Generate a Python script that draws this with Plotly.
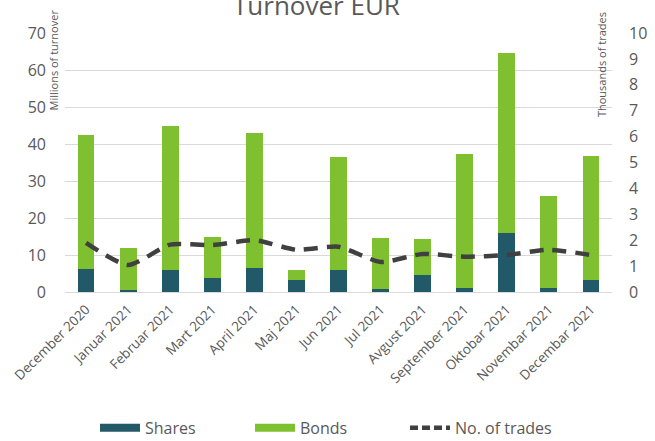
import plotly.graph_objects as go

months = ["December 2020", "Januar 2021", "Februar 2021", "Mart 2021", "April 2021",
          "Maj 2021", "Jun 2021", "Jul 2021", "Avgust 2021", "September 2021",
          "Oktobar 2021", "Novembar 2021", "Decembar 2021"]
shares = [6.1, 0.5, 5.9, 3.8, 6.5, 3.2, 6.0, 0.9, 4.7, 1.1, 16.0, 1.0, 3.2]
totals = [42.5, 11.8, 45.0, 14.8, 43.0, 6.0, 36.5, 14.5, 14.3, 37.3, 64.5, 26.0, 36.7]
bonds = [round(t - s, 2) for t, s in zip(totals, shares)]
trades = [1.9, 1.04, 1.83, 1.81, 2.0, 1.63, 1.75, 1.16, 1.47, 1.36, 1.43, 1.63, 1.43]

font = "Open Sans"
grey = "#595959"
c_shares = "#215968"
c_bonds = "#7FC031"
c_line = "#404040"

fig = go.Figure()
fig.add_trace(go.Bar(x=months, y=shares, name="Shares", marker_color=c_shares,
                     marker_line_width=0, width=0.4, showlegend=False))
fig.add_trace(go.Bar(x=months, y=bonds, name="Bonds", marker_color=c_bonds,
                     marker_line_width=0, width=0.4, showlegend=False))
fig.add_trace(go.Scatter(x=months, y=trades, name="No. of trades", yaxis="y2",
                         mode="lines", showlegend=False,
                         line=dict(color=c_line, width=4.5, dash="14px,9px",
                                   shape="spline", smoothing=0.6)))
# legend entries (wide swatches like the original)
fig.add_trace(go.Scatter(x=[None], y=[None], name="Shares", mode="lines",
                         line=dict(color=c_shares, width=8)))
fig.add_trace(go.Scatter(x=[None], y=[None], name="Bonds", mode="lines",
                         line=dict(color=c_bonds, width=8)))
fig.add_trace(go.Scatter(x=[None], y=[None], name="No. of trades", mode="lines",
                         line=dict(color=c_line, width=4.5, dash="8px,4px")))

fig.update_layout(
    width=655, height=441,
    margin=dict(l=65, r=43, t=33, b=149),
    plot_bgcolor="white", paper_bgcolor="white",
    barmode="stack",
    font=dict(family=font, color=grey),
    showlegend=True,
    legend=dict(orientation="h", x=0.5, xanchor="center", xref="container",
                y=0.03, yanchor="middle", yref="container",
                font=dict(size=16, color=grey), traceorder="normal", itemwidth=40,
                entrywidth=100, entrywidthmode="pixels"),
    xaxis=dict(tickangle=-45, tickfont=dict(size=13.5, color=grey), showgrid=False,
               showline=False, ticks="", automargin=False, ticklabelstandoff=6),
    yaxis=dict(range=[0, 70], dtick=10, tickfont=dict(size=16, color=grey),
               gridcolor="#D9D9D9", gridwidth=1.2, zeroline=True, zerolinecolor="#D9D9D9",
               zerolinewidth=1.2, ticks="", ticklabelstandoff=18, automargin=False),
    yaxis2=dict(range=[0, 10], dtick=1, overlaying="y", side="right", showgrid=False,
                tickfont=dict(size=16, color=grey), zeroline=False, ticks="",
                ticklabelstandoff=16, automargin=False),
    annotations=[
        dict(text="Turnover EUR", xref="paper", yref="paper", x=0.459, y=1.11,
             xanchor="center", yanchor="middle", showarrow=False,
             font=dict(size=26, color=grey, family=font)),
        dict(text="Millions of turnover", xref="paper", yref="paper", x=-0.003, y=1.1,
             xanchor="right", yanchor="top", textangle=-90, showarrow=False,
             font=dict(size=11, color=grey, family=font)),
        dict(text="Thousands of trades", xref="paper", yref="paper", x=0.997, y=1.09,
             xanchor="right", yanchor="top", textangle=-90, showarrow=False,
             font=dict(size=11, color=grey, family=font)),
    ],
)

fig.write_html("out.html", config={"displayModeBar": False},
               post_script="document.body.style.margin='0px';")
